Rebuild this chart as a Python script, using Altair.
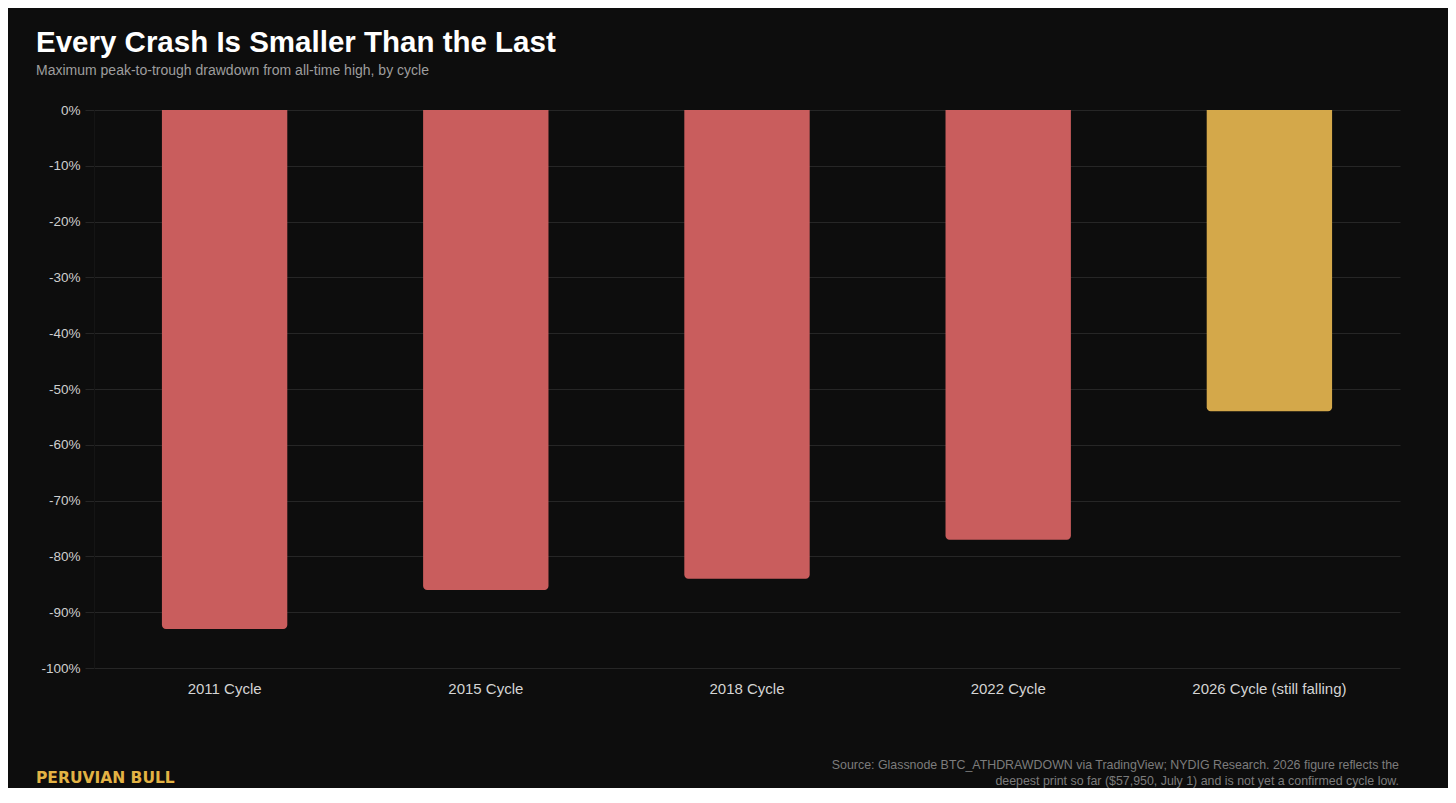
import altair as alt
import pandas as pd

# --- data ------------------------------------------------------------------
cycles = ["2011 Cycle", "2015 Cycle", "2018 Cycle", "2022 Cycle", "2026 Cycle (still falling)"]
drawdown_pct = [-93, -86, -84, -77, -54]
status = ["complete", "complete", "complete", "complete", "ongoing"]

y_ticks = list(range(-100, 1, 10))

TITLE = "Every Crash Is Smaller Than the Last"
SUBTITLE = "Maximum peak-to-trough drawdown from all-time high, by cycle"
SOURCE = (
    "Source: Glassnode BTC_ATHDRAWDOWN via TradingView; NYDIG Research. 2026 figure reflects the\n"
    "deepest print so far ($57,950, July 1) and is not yet a confirmed cycle low."
)
BRAND = "PERUVIAN BULL"

BG = "#0d0d0d"
GRID = "#262626"
STATUS_COLORS = {"complete": "#c95d5d", "ongoing": "#d4a84a"}
FONT = "Liberation Sans"

W, H = 1306, 558

df = pd.DataFrame({"cycle": cycles, "drawdown": drawdown_pct, "status": status})

bars = (
    alt.Chart(df)
    .mark_bar(cornerRadiusBottomLeft=4, cornerRadiusBottomRight=4)
    .encode(
        x=alt.X(
            "cycle:N",
            sort=cycles,
            title=None,
            scale=alt.Scale(paddingInner=0.52, paddingOuter=0.26),
            axis=alt.Axis(
                labelAngle=0,
                ticks=False,
                domain=False,
                labelPadding=13,
                labelFontSize=15,
                labelColor="#d4d4d4",
                labelFont=FONT,
            ),
        ),
        y=alt.Y(
            "drawdown:Q",
            title=None,
            scale=alt.Scale(domain=[-100, 0], nice=False),
            axis=alt.Axis(
                values=y_ticks,
                labelExpr="datum.value + '%'",
                grid=True,
                gridColor=GRID,
                tickColor=GRID,
                tickSize=9,
                domainColor="#151515",
                labelPadding=5,
                labelFontSize=13.5,
                labelColor="#cfcfcf",
                labelFont=FONT,
            ),
        ),
        y2=alt.datum(0),
        color=alt.Color(
            "status:N",
            scale=alt.Scale(domain=list(STATUS_COLORS), range=list(STATUS_COLORS.values())),
            legend=None,
        ),
    )
)

brand = (
    alt.Chart(pd.DataFrame({"t": [BRAND]}))
    .mark_text(
        align="left",
        baseline="alphabetic",
        font="DejaVu Sans",
        fontSize=15.5,
        fontWeight="bold",
        color="#e3b344",
    )
    .encode(text="t:N", x=alt.value(-58), y=alt.value(783 - 110))
)

source = (
    alt.Chart(pd.DataFrame({"t": [SOURCE]}))
    .mark_text(
        align="right",
        baseline="alphabetic",
        font=FONT,
        fontSize=12.4,
        lineHeight=15.5,
        lineBreak="\n",
        color="#7c7c7c",
    )
    .encode(text="t:N", x=alt.value(W - 1), y=alt.value(769 - 110))
)

chart = (
    alt.layer(bars, brand, source)
    .properties(
        width=W,
        height=H,
        background=BG,
        padding={"left": 86, "top": 102, "right": 48, "bottom": 120},
        autosize=alt.AutoSizeParams(type="none"),
        title=alt.TitleParams(
            text=TITLE,
            subtitle=SUBTITLE,
            anchor="start",
            frame="group",
            dx=-58,
            offset=24,
            font=FONT,
            fontSize=29.5,
            fontWeight="bold",
            color="#ffffff",
            subtitleFont=FONT,
            subtitleFontSize=14,
            subtitleColor="#9e9e9e",
            subtitlePadding=6,
        ),
    )
    .configure_view(stroke=None)
)

chart.save("out.html", embed_options={"renderer": "svg", "actions": False})
